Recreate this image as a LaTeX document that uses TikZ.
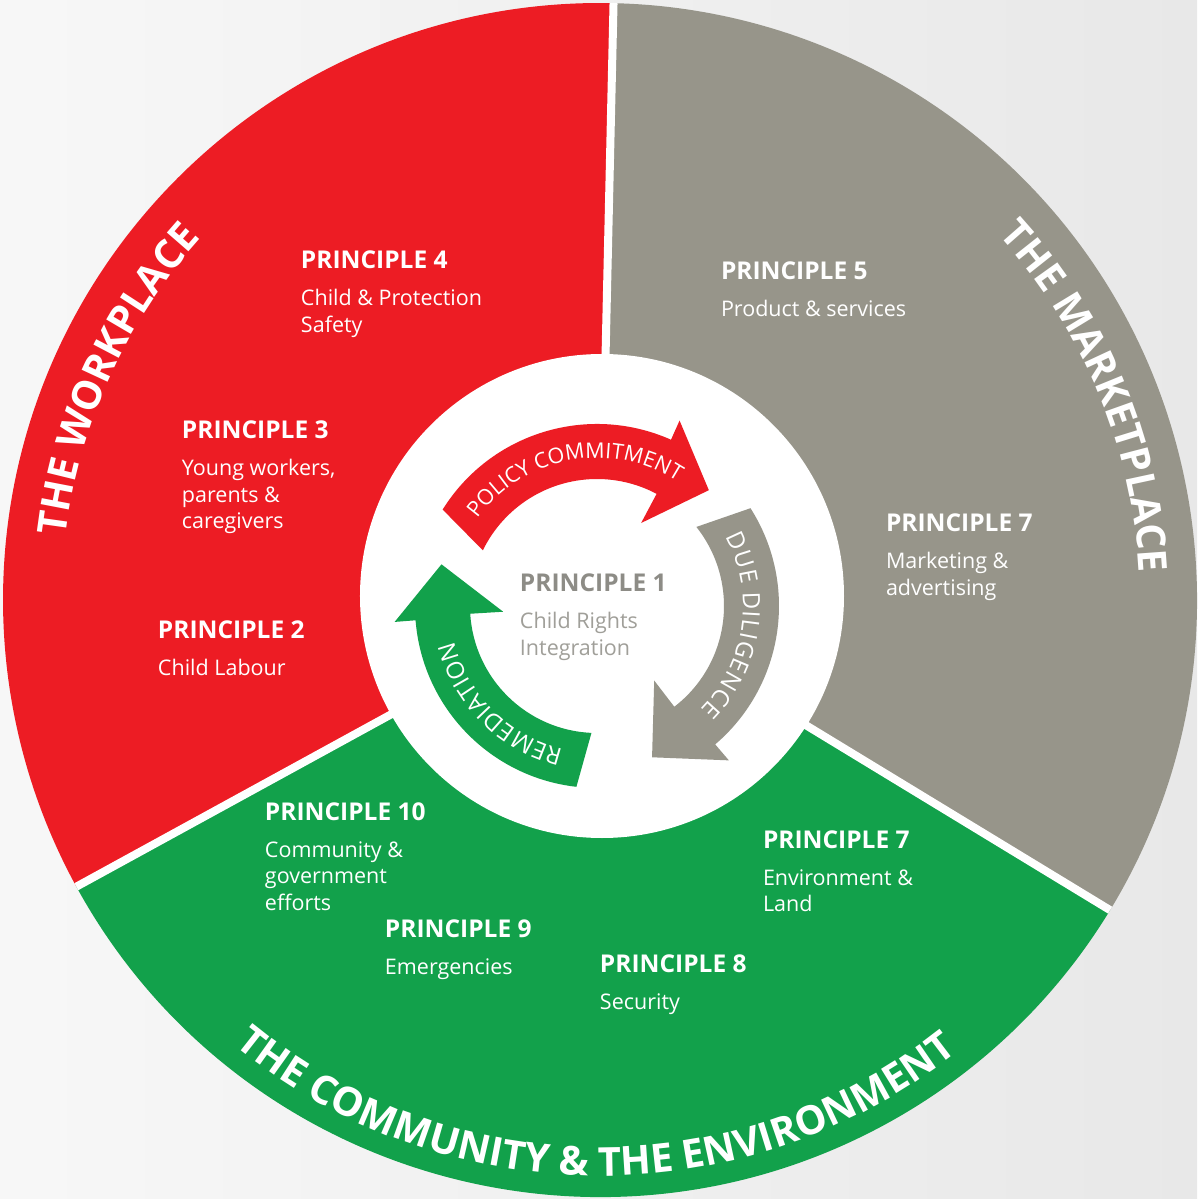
\documentclass[tikz,border=0pt]{standalone}
\usepackage{fontspec}
\setmainfont{Open Sans}
\usetikzlibrary{decorations.text}
\definecolor{cred}{HTML}{ED1C24}
\definecolor{cgray}{HTML}{97958A}
\definecolor{cgreen}{HTML}{12A14B}
\definecolor{ptitlegray}{HTML}{8D8C86}
\definecolor{pbodygray}{HTML}{A09F99}
\newcommand\bigarcfont{\fontsize{40}{40}\selectfont\bfseries\color{white}}
\newcommand\smallarcfont{\fontsize{21.5}{21.5}\selectfont\color{white}}
\newcommand\midarcfont{\fontsize{24}{24}\selectfont\color{white}}
\tikzset{
  ptitle/.style={anchor=base west, inner sep=0pt, outer sep=0pt, font=\fontsize{24.5}{24.5}\selectfont\bfseries, text=white},
  pbody/.style={anchor=base west, inner sep=0pt, outer sep=0pt, font=\fontsize{21.5}{21.5}\selectfont, text=white},
  first/.style={yshift=-37},
  next/.style={yshift=-26.5},
}
\begin{document}
\begin{tikzpicture}[x=1pt,y=1pt]
\useasboundingbox (-600,-599) rectangle (597,600);
\shade[left color=black!3, right color=black!9] (-600,-599) rectangle (597,600);
% sectors
\fill[cred] (0,0) -- (88.7:597) arc[start angle=88.7,end angle=208.7,radius=597] -- cycle;
\fill[cgreen] (0,0) -- (208.7:597) arc[start angle=208.7,end angle=328.7,radius=597] -- cycle;
\fill[cgray] (0,0) -- (-31.3:597) arc[start angle=-31.3,end angle=88.7,radius=597] -- cycle;
\foreach \a in {88.7,208.7,328.7} \draw[white,line width=8pt] (0,0) -- (\a:597);
% inner white disc
\fill[white] (2,4) circle[radius=242];
% cycle arrows
\begin{scope}[shift={(-3,-6)}]
\fill[cred] (148:182) arc[start angle=148,end angle=66,radius=182] -- (66:203) -- (46:161) -- (62:94) -- (62:127) arc[start angle=62,end angle=154,radius=127] -- cycle;
\fill[cgray] (32.5:182) arc[start angle=32.5,end angle=-49.5,radius=182] -- (-49.5:203) -- (-70:161) -- (-52.5:94) -- (-52.5:127) arc[start angle=-52.5,end angle=38.5,radius=127] -- cycle;
\fill[cgreen] (263.5:182) arc[start angle=263.5,end angle=184.5,radius=182] -- (184.5:203) -- (165:161) -- (183.5:94) -- (183.5:127) arc[start angle=183.5,end angle=267.5,radius=127] -- cycle;
\path[decorate, decoration={text along path, text={|\smallarcfont|POLICY COMMITMENT}, text align=center}]
  (150.5:148) arc[start angle=150.5,end angle=50.5,radius=148];
\path[decorate, decoration={text along path, text={|\midarcfont|DUE DILIGENCE}, text align={fit to path}}]
  (28.2:146) arc[start angle=28.2,end angle=-44.9,radius=146];
\path[decorate, decoration={text along path, text={|\midarcfont|REMEDIATION}, text align={fit to path}}]
  (256.7:147) arc[start angle=256.7,end angle=193.9,radius=147];
\end{scope}
% sector titles along the rim
\path[decorate, decoration={text along path, text={|\bigarcfont|THE WORKPLACE}, text align=center}]
  (200.5:538) arc[start angle=200.5,end angle=110.5,radius=538];
\path[decorate, decoration={text along path, text={|\bigarcfont|THE MARKETPLACE}, text align=center}]
  (67.7:540) arc[start angle=67.7,end angle=-22.3,radius=540];
\path[decorate, decoration={text along path, text={|\bigarcfont|THE COMMUNITY {\&} THE ENVIRONMENT}, text align=center}]
  (219.5:576) arc[start angle=219.5,end angle=319.5,radius=576];
% principles
\node[ptitle] (p4) at (-299,331) {PRINCIPLE 4};
\node[pbody,first] (p4a) at (p4.base west) {Child \& Protection};
\node[pbody,next] (p4b) at (p4a.base west) {Safety};

\node[ptitle] (p3) at (-418,161) {PRINCIPLE 3};
\node[pbody,first] (p3a) at (p3.base west) {Young workers,};
\node[pbody,next] (p3b) at (p3a.base west) {parents \&};
\node[pbody,next] (p3c) at (p3b.base west) {caregivers};

\node[ptitle] (p2) at (-442,-39) {PRINCIPLE 2};
\node[pbody,first] (p2a) at (p2.base west) {Child Labour};

\node[ptitle] (p5) at (121,320) {PRINCIPLE 5};
\node[pbody,first] (p5a) at (p5.base west) {Product \& services};

\node[ptitle] (p7m) at (286,68) {PRINCIPLE 7};
\node[pbody,first] (p7ma) at (p7m.base west) {Marketing \&};
\node[pbody,next] (p7mb) at (p7ma.base west) {advertising};

\node[ptitle,text=ptitlegray] (p1) at (-80,8) {PRINCIPLE 1};
\node[pbody,first,text=pbodygray] (p1a) at (p1.base west) {Child Rights};
\node[pbody,next,text=pbodygray] (p1b) at (p1a.base west) {Integration};

\node[ptitle] (p10) at (-335,-220) {PRINCIPLE 10};
\node[pbody,first] (p10a) at (p10.base west) {Community \&};
\node[pbody,next] (p10b) at (p10a.base west) {government};
\node[pbody,next] (p10c) at (p10b.base west) {efforts};

\node[ptitle] (p9) at (-215,-337) {PRINCIPLE 9};
\node[pbody,first] (p9a) at (p9.base west) {Emergencies};

\node[ptitle] (p8) at (0,-372) {PRINCIPLE 8};
\node[pbody,first] (p8a) at (p8.base west) {Security};

\node[ptitle] (p7e) at (163,-248) {PRINCIPLE 7};
\node[pbody,first] (p7ea) at (p7e.base west) {Environment \&};
\node[pbody,next] (p7eb) at (p7ea.base west) {Land};
\end{tikzpicture}
\end{document}
